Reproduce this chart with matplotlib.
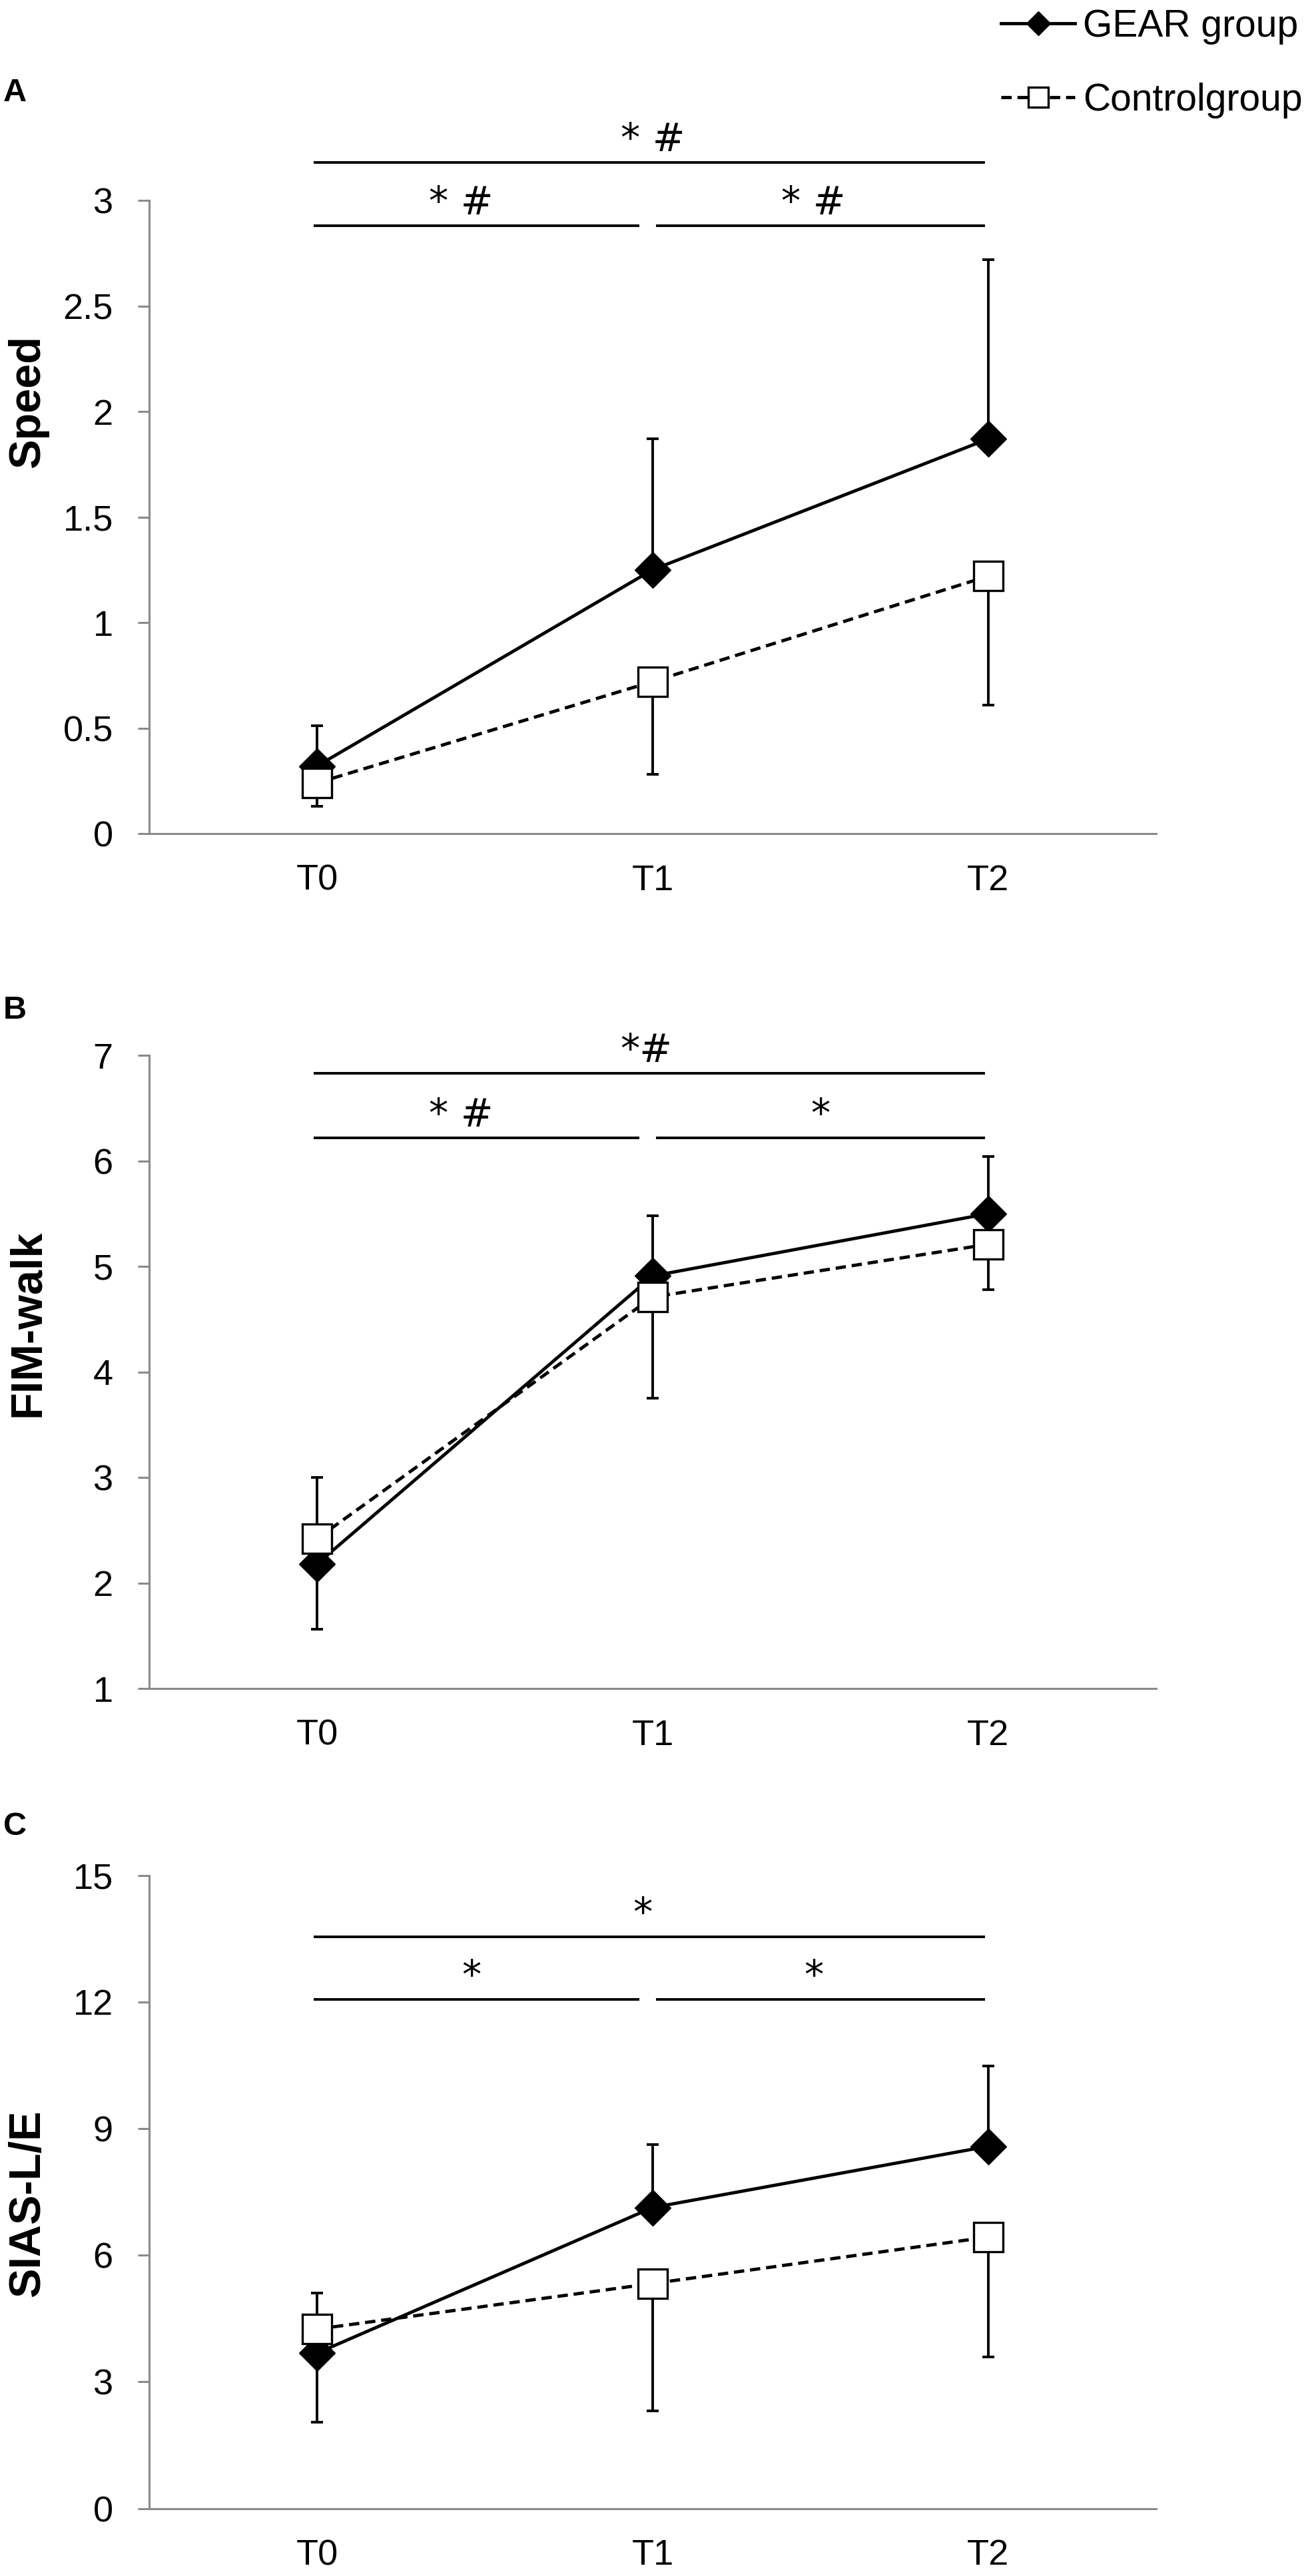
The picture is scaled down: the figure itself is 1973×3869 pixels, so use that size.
import numpy as np
import matplotlib.pyplot as plt
from matplotlib.ticker import FormatStrFormatter

plt.rcParams['font.family'] = ['Liberation Sans', 'DejaVu Sans']

times = ['T0', 'T1', 'T2']

# panel A: walking speed
speed_gear = [0.32, 1.25, 1.87]
speed_gear_sd = [0.19, 0.62, 0.85]
speed_ctrl = [0.24, 0.72, 1.22]
speed_ctrl_sd = [0.11, 0.44, 0.61]

# panel B: FIM-walk
fim_gear = [2.18, 4.91, 5.50]
fim_gear_sd = [0.82, 0.57, 0.54]
fim_ctrl = [2.42, 4.71, 5.21]
fim_ctrl_sd = [0.86, 0.96, 0.43]

# panel C: SIAS-L/E
sias_gear = [3.68, 7.13, 8.58]
sias_gear_sd = [1.43, 1.49, 1.91]
sias_ctrl = [4.25, 5.33, 6.43]
sias_ctrl_sd = [2.20, 3.01, 2.84]

# significance bars: (from, to, level, text, text x)
speed_sig = [(-0.01, 1.99, 3.18, '* #', 1.00),
             (-0.01, 0.96, 2.88, '* #', 0.43),
             (1.01, 1.99, 2.88, '* #', 1.48)]
fim_sig = [(-0.01, 1.99, 6.83, '*#', 0.98),
           (-0.01, 0.96, 6.22, '* #', 0.43),
           (1.01, 1.99, 6.22, '*', 1.50)]
sias_sig = [(-0.01, 1.99, 13.55, '*', 0.97),
            (-0.01, 0.96, 12.06, '*', 0.46),
            (1.01, 1.99, 12.06, '*', 1.48)]

panels = [
    ('A', 'Speed', speed_gear, speed_gear_sd, speed_ctrl, speed_ctrl_sd,
     speed_sig, (0, 3), np.arange(0, 3.01, 0.5), 0.6764, 0.9640, 0.682),
    ('B', 'FIM-walk', fim_gear, fim_gear_sd, fim_ctrl, fim_ctrl_sd,
     fim_sig, (1, 7), np.arange(1, 7.01, 1), 0.3445, 0.6077, 0.577),
    ('C', 'SIAS-L/E', sias_gear, sias_gear_sd, sias_ctrl, sias_ctrl_sd,
     sias_sig, (0, 15), np.arange(0, 15.01, 3), 0.0262, 0.2910, 0.482),
]

grey = '#8a8a8a'
fig = plt.figure(figsize=(19.73, 38.69), dpi=100)
x = np.arange(len(times))

for letter, label, g, gsd, c, csd, sig, ylim, yticks, bottom, lety, laby in panels:
    ax = fig.add_axes([0.1135, bottom, 0.7663, 0.2458])
    zero = np.zeros(len(times))
    ax.errorbar(x, g, yerr=[zero, gsd], fmt='none', ecolor='black',
                elinewidth=2.8, capsize=6.5, capthick=2.8, zorder=2)
    lg, = ax.plot(x, g, color='black', lw=3.5, marker='D', ms=27.5,
                  mfc='black', mec='black', zorder=3, label='GEAR group')
    ax.errorbar(x, c, yerr=[csd, zero], fmt='none', ecolor='black',
                elinewidth=2.8, capsize=6.5, capthick=2.8, zorder=4)
    lc, = ax.plot(x, c, color='black', lw=3.5, ls=(0, (3.2, 1.8)), marker='s',
                  ms=32, mfc='white', mec='black', mew=2.4, zorder=5,
                  label='Controlgroup')

    for x0, x1, lev, txt, tx in sig:
        ax.plot([x0, x1], [lev, lev], color='black', lw=2.8, clip_on=False,
                solid_capstyle='butt')
        ax.annotate(txt, (tx, lev), xytext=(0, 12), textcoords='offset points',
                    ha='center', va='baseline', fontsize=42,
                    family=['DejaVu Sans'], annotation_clip=False)

    ax.set_xlim(-0.5, 2.5)
    ax.set_ylim(*ylim)
    ax.set_xticks(x)
    ax.set_xticklabels(times)
    ax.set_yticks(yticks)
    ax.yaxis.set_major_formatter(FormatStrFormatter('%g'))
    for s in ['top', 'right']:
        ax.spines[s].set_visible(False)
    for s in ['left', 'bottom']:
        ax.spines[s].set_color(grey)
        ax.spines[s].set_linewidth(2.2)
    ax.tick_params(axis='y', length=12, width=2.2, color=grey, pad=27,
                   labelsize=39)
    ax.tick_params(axis='x', length=0, pad=33, labelsize=39)
    ax.set_ylabel(label, fontsize=48, fontweight='bold')
    ax.yaxis.set_label_coords(-0.10, laby)
    fig.text(0.0112, lety, letter, fontsize=35, fontweight='bold',
             ha='center', va='center')

fig.legend(handles=[lg, lc], loc='upper left', bbox_to_anchor=(0.762, 0.9966),
           frameon=False, fontsize=41, handlelength=1.95, handletextpad=0.2,
           labelspacing=1.0, borderpad=0, borderaxespad=0, markerscale=0.68)

fig.savefig('out.png', dpi=100)
